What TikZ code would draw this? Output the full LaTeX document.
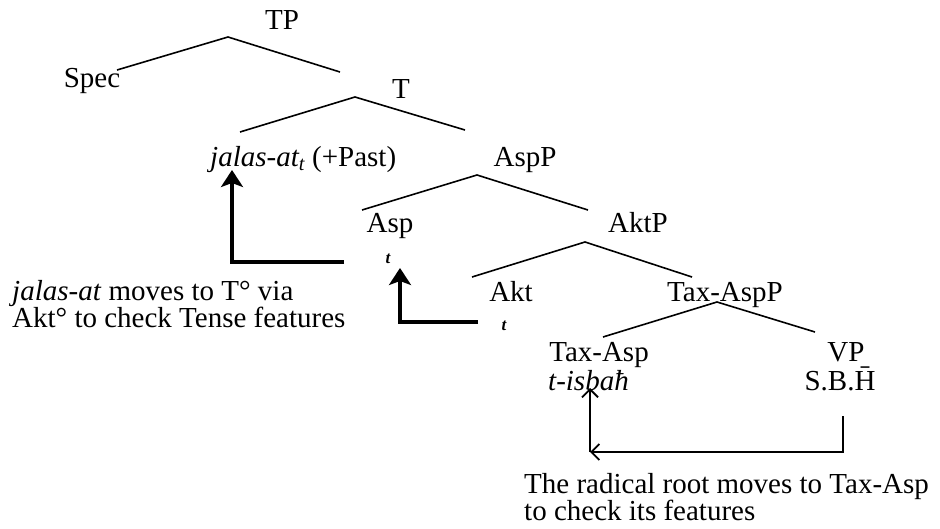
\documentclass[tikz,border=0pt]{standalone}
\usepackage{fontspec}
\setmainfont{Liberation Serif}
\usetikzlibrary{arrows.meta}
\begin{document}
\begin{tikzpicture}[x=1pt,y=-1pt,
  lab/.style={anchor=base,inner sep=0pt,font=\fontsize{29}{25}\selectfont},
  labw/.style={anchor=base west,inner sep=0pt,font=\fontsize{29}{25}\selectfont},
  trace/.style={anchor=base,inner sep=0pt,font=\fontsize{17}{17}\selectfont\bfseries\itshape},
  note/.style={anchor=north west,inner sep=0pt,align=left,font=\fontsize{29}{25}\selectfont},
  edge/.style={line width=1.6pt},
  thick arrow/.style={line width=4.5pt,-{Stealth[length=17pt,width=22pt,inset=4pt]}},
  thin arrow/.style={line width=1.8pt,-{Straight Barb[length=8pt,width=16pt,line width=1.8pt]}}]
\useasboundingbox (0,0) rectangle (940,529);
\fill[white] (0,0) rectangle (940,529);

% labels
\node[lab] (TP) at (282,30) {TP};
\node[lab] (Spec) at (92,88) {Spec};
\node[lab] (T) at (401,99) {T};
\node[labw] (jal) at (210,167) {\textit{jalas-at\textsubscript{t}} (+Past)};
\node[lab] (AspP) at (525,167) {AspP};
\node[lab] (Asp) at (390,233) {Asp};
\node[lab] (AktP) at (638,233) {AktP};
\node[trace] (t1) at (388,264) {t};
\node[lab] (Akt) at (511,302) {Akt};
\node[lab] (TaxAspP) at (725,302) {Tax-AspP};
\node[trace] (t2) at (504,331) {t};
\node[lab] (TaxAsp) at (599,362) {Tax-Asp};
\node[labw] (isbah) at (548,390) {\textit{t-isbaħ}};
\node[lab] (VP) at (846,362) {VP};
\node[lab] (SBH) at (840,390) {S.B.\={H}};
\node[note] (n1) at (12,280) {\textit{jalas}-\textit{at} moves to T\textdegree\ via\\Akt\textdegree\ to check Tense features};
\node[note] (n2) at (524,473) {The radical root moves to Tax-Asp\\to check its features};

% tree edges
\coordinate (TPl) at (117,70); \coordinate (TPa) at (228,37); \coordinate (TPr) at (340,72);
\coordinate (Tl) at (240,132); \coordinate (Ta) at (355,97); \coordinate (Tr) at (465,130);
\coordinate (AspPl) at (362,210); \coordinate (AspPa) at (477,175); \coordinate (AspPr) at (588,210);
\coordinate (AktPl) at (472,277); \coordinate (AktPa) at (585,242); \coordinate (AktPr) at (692,277);
\coordinate (TXl) at (603,337); \coordinate (TXa) at (717,302); \coordinate (TXr) at (815,332);
\draw[edge] (TPl) -- (TPa) -- (TPr);
\draw[edge] (Tl) -- (Ta) -- (Tr);
\draw[edge] (AspPl) -- (AspPa) -- (AspPr);
\draw[edge] (AktPl) -- (AktPa) -- (AktPr);
\draw[edge] (TXl) -- (TXa) -- (TXr);

% movement arrows
\coordinate (a1s) at (344,262); \coordinate (a1c) at (232,262); \coordinate (a1e) at (232,170);
\draw[thick arrow] (a1s) -- (a1c) -- (a1e);
\coordinate (a2s) at (478,322); \coordinate (a2c) at (400,322); \coordinate (a2e) at (400,268);
\draw[thick arrow] (a2s) -- (a2c) -- (a2e);
\coordinate (a3s) at (843,416); \coordinate (a3c) at (843,452); \coordinate (a3d) at (590,452); \coordinate (a3e) at (590,388);
\draw[thin arrow] (a3s) -- (a3c) -- (a3d);
\draw[thin arrow] (a3d) -- (a3e);
\end{tikzpicture}
\end{document}
